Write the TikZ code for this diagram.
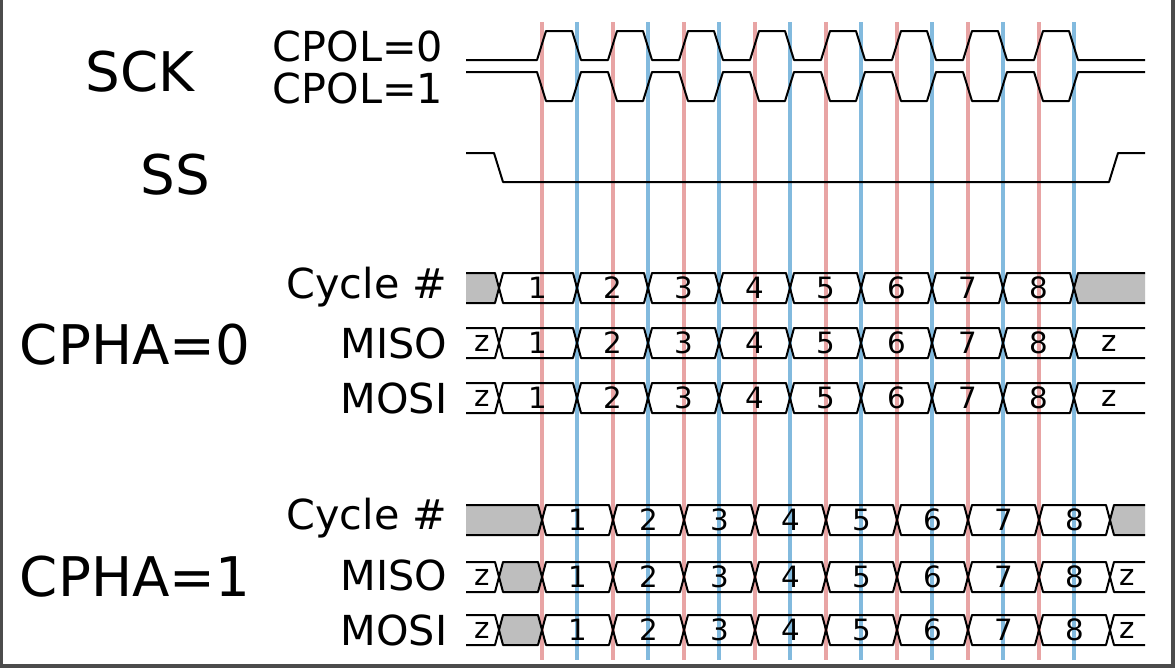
\documentclass[tikz,border=0pt]{standalone}
\usepackage{fontspec}
\setmainfont{DejaVu Sans}
\definecolor{redl}{RGB}{232,164,164}
\definecolor{bluel}{RGB}{130,186,222}
\definecolor{busgray}{RGB}{190,190,190}
\tikzset{sig/.style={line width=1.5pt,black,line join=round},
 big/.style={font=\fontsize{41}{41}\selectfont},
 mid/.style={font=\fontsize{31}{31}\selectfont},
 lab/.style={font=\fontsize{31}{31}\selectfont,anchor=east},
 num/.style={font=\fontsize{22}{22}\selectfont}}
\newcommand\busseg[4]{%
 \draw[sig] (#1,#3) -- (#1+4,#3-15) -- (#2-4,#3-15) -- (#2,#3) -- (#2-4,#3+15) -- (#1+4,#3+15) -- cycle;
 \node[num] at ({(#1+#2)/2},#3) {#4};}
\newcommand\busleft[5]{%
 \fill[#5] (#1,#3-15) -- (#2-4,#3-15) -- (#2,#3) -- (#2-4,#3+15) -- (#1,#3+15) -- cycle;
 \draw[sig] (#1,#3-15) -- (#2-4,#3-15) -- (#2,#3) -- (#2-4,#3+15) -- (#1,#3+15);
 \node[num] at ({(#1+#2)/2},#3) {#4};}
\newcommand\busright[5]{%
 \fill[#5] (#2,#3-15) -- (#1+4,#3-15) -- (#1,#3) -- (#1+4,#3+15) -- (#2,#3+15) -- cycle;
 \draw[sig] (#2,#3-15) -- (#1+4,#3-15) -- (#1,#3) -- (#1+4,#3+15) -- (#2,#3+15);
 \node[num] at ({(#1+#2)/2},#3) {#4};}
\begin{document}
\begin{tikzpicture}[x=0.75pt,y=-0.75pt]
\fill[black!70] (0,0) rectangle (1175,668);
\fill[white] (3,0) rectangle (1171,664);
\useasboundingbox (0,0) rectangle (1175,668);
\foreach \i in {0,...,7}{
 \draw[redl,line width=3pt] (542+71*\i,22) -- (542+71*\i,660);
 \draw[bluel,line width=3pt] (577+71*\i,22) -- (577+71*\i,660);}
\node[big] at (140,72) {SCK};
\node[mid] at (358,46) {CPOL=0};
\node[mid] at (358,88) {CPOL=1};
\node[big] at (175,175) {SS};
\node[big] at (135,345) {CPHA=0};
\node[big] at (135,577) {CPHA=1};
\foreach \y/\t in {287/{Cycle \#},343/MISO,398/MOSI,518/{Cycle \#},575/MISO,630/MOSI}
 \node[lab] at (452,\y) {\t};
\draw[sig] (466,60) -- (537,60)
 \foreach \i in {0,...,7}{ -- (537+71*\i,60) -- (546+71*\i,31) -- (572+71*\i,31) -- (581+71*\i,60)} -- (1145,60);
\draw[sig] (466,72) -- (537,72)
 \foreach \i in {0,...,7}{ -- (537+71*\i,72) -- (546+71*\i,101) -- (572+71*\i,101) -- (581+71*\i,72)} -- (1145,72);
\draw[sig] (466,153) -- (494,153) -- (503,182) -- (1109,182) -- (1118,153) -- (1145,153);
\busleft{466}{499}{288}{}{busgray}
\busleft{466}{499}{343}{z}{white}
\busleft{466}{499}{398}{z}{white}
\foreach \y in {288,343,398}{
 \busseg{499}{577}{\y}{1}
 \foreach \i in {1,...,7}{\pgfmathtruncatemacro\n{\i+1}\busseg{506+71*\i}{577+71*\i}{\y}{\n}}}
\busright{1074}{1145}{288}{}{busgray}
\busright{1074}{1145}{343}{z}{white}
\busright{1074}{1145}{398}{z}{white}
\busleft{466}{542}{520}{}{busgray}
\busleft{466}{499}{577}{z}{white}
\busleft{466}{499}{630}{z}{white}
\foreach \y in {577,630}{
 \fill[busgray] (503,\y-15) -- (538,\y-15) -- (542,\y) -- (538,\y+15) -- (503,\y+15) -- (499,\y) -- cycle;
 \draw[sig] (503,\y-15) -- (538,\y-15) -- (542,\y) -- (538,\y+15) -- (503,\y+15) -- (499,\y) -- cycle;}
\foreach \y in {520,577,630}{
 \foreach \i in {0,...,6}{\pgfmathtruncatemacro\n{\i+1}\busseg{542+71*\i}{613+71*\i}{\y}{\n}}
 \busseg{1039}{1110}{\y}{8}}
\busright{1110}{1145}{520}{}{busgray}
\busright{1110}{1145}{577}{z}{white}
\busright{1110}{1145}{630}{z}{white}
\end{tikzpicture}
\end{document}
